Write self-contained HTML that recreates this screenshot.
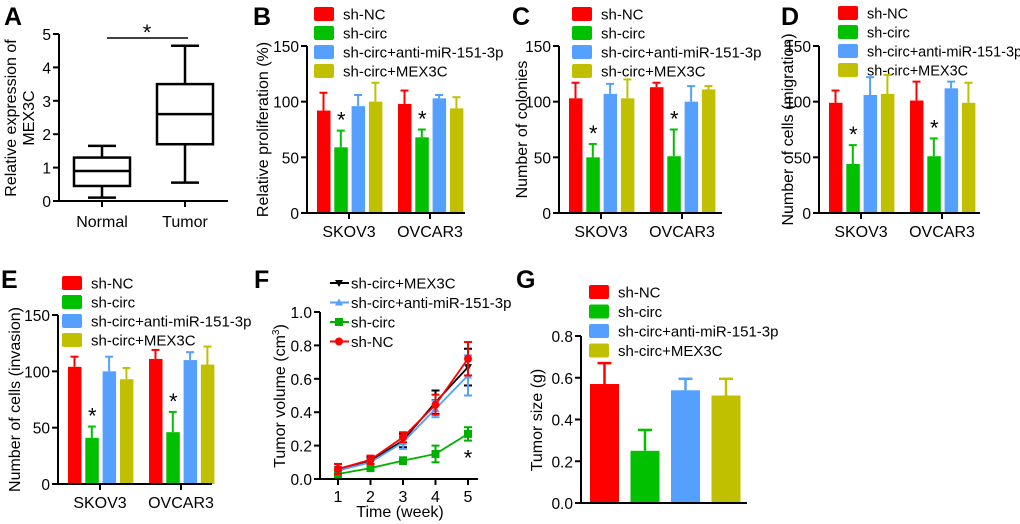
<!DOCTYPE html>
<html><head><meta charset="utf-8"><style>
html,body{margin:0;padding:0;background:#fff;}
svg{display:block;font-family:"Liberation Sans",Arial,sans-serif;}
</style></head><body>
<svg id="fig" width="1020" height="524" viewBox="0 0 1020 524" xmlns="http://www.w3.org/2000/svg"></svg>
<script>
// ---- data ----
const groupNames = ["sh-NC","sh-circ","sh-circ+anti-miR-151-3p","sh-circ+MEX3C"];
const cellLines = ["SKOV3","OVCAR3"];
const boxCategories = ["Normal","Tumor"];
const boxMin = [0.1, 0.55];
const boxQ1 = [0.45, 1.7];
const boxMed = [0.9, 2.6];
const boxQ3 = [1.3, 3.5];
const boxMax = [1.65, 4.65];
const bSkov = [92,59,96,100];   const bSkovErr = [16,15,10,17];
const bOvc  = [98,68,103,94];   const bOvcErr  = [12,7,3,10];
const cSkov = [103,50,107,103]; const cSkovErr = [14,12,9,17];
const cOvc  = [113,51,100,111]; const cOvcErr  = [4,24,14,3];
const dSkov = [99,44,106,107];  const dSkovErr = [11,17,16,17];
const dOvc  = [101,51,112,99];  const dOvcErr  = [17,16,6,18];
const eSkov = [104,41,100,93];  const eSkovErr = [9,10,13,10];
const eOvc  = [111,46,110,106]; const eOvcErr  = [8,18,7,16];
const barTicks = [0,50,100,150];
const weeks = [1,2,3,4,5];
const fMex = [0.06,0.11,0.23,0.46,0.67];   const fMexErr = [0.03,0.02,0.04,0.07,0.11];
const fAnti = [0.05,0.10,0.22,0.42,0.62];  const fAntiErr = [0.02,0.02,0.04,0.05,0.12];
const fCirc = [0.03,0.065,0.11,0.15,0.27]; const fCircErr = [0.02,0.015,0.02,0.05,0.04];
const fNC = [0.06,0.115,0.25,0.445,0.72];  const fNCErr = [0.03,0.025,0.03,0.06,0.10];
const fTicks = [0,0.2,0.4,0.6,0.8,1.0];
const gVals = [0.57,0.25,0.54,0.515];
const gErr = [0.10,0.10,0.055,0.08];
const gTicks = [0,0.2,0.4,0.6,0.8];

const COLORS = ["#ff0000","#00c000","#55a0ff","#c0c000"];
const FS = 16;
const TFS = 15.5;
const LFS = 15;
const NS = "http://www.w3.org/2000/svg";
const svg = document.getElementById("fig");
function el(tag, attrs, parent, text){
  const e = document.createElementNS(NS, tag);
  for (const k in attrs) e.setAttribute(k, attrs[k]);
  if (text !== undefined) e.textContent = text;
  (parent||svg).appendChild(e);
  return e;
}
function grp(name){
  const g = el("g", {});
  
  
  return g;
}
function letter(t, x, y){
  const e = el("text", {x:x, y:y, "font-size":25, "font-weight":"bold"}, svg, t);
  
  
}
function yAxis(g, x, y0, y1, ticks, scale, fmt){
  el("line",{x1:x,y1:y0+1,x2:x,y2:y1,stroke:"#000","stroke-width":2},g);
  ticks.forEach(t=>{
    const y = scale(t);
    el("line",{x1:x-6,y1:y,x2:x,y2:y,stroke:"#000","stroke-width":2},g);
    const lb = el("text",{x:x-8,y:y+6,"font-size":TFS,"text-anchor":"end"},g,fmt(t));
    
    
  });
}
function yTitle(g, lines, cx, cy){
  lines.forEach((t,i)=>{
    const x = cx + (i - (lines.length-1)/2)*18;
    const e = el("text",{x:x,y:cy,"font-size":FS,"text-anchor":"middle",transform:`rotate(-90 ${x} ${cy})`,dy:6},g,t);
    
    
  });
}
function legend(g, x, y0, step, fs){
  groupNames.forEach((n,i)=>{
    const y = y0 + i*step;
    const r = el("rect",{x:x,y:y-7,width:20,height:14,rx:2,fill:COLORS[i]},g);
    
    
    const t = el("text",{x:x+29,y:y+5.5,"font-size":fs||LFS},g,n);
    
    
  });
}

// ---- Panel A: box plot ----
(function(){
  const g = grp("panel-a-boxplot");
  const ax = 59, y0 = 201, y1 = 34;
  const sy = v => y0 - v/5*(y0-y1);
  const cx = [102,185];
  yAxis(g, ax, y0, y1, [0,1,2,3,4,5], sy, t=>String(t));
  el("line",{x1:ax,y1:y0,x2:228,y2:y0,stroke:"#000","stroke-width":2},g);
  cx.forEach((c,i)=>{
    el("line",{x1:c,y1:y0,x2:c,y2:y0+6,stroke:"#000","stroke-width":2},g);
    const lb = el("text",{x:c,y:227,"font-size":FS,"text-anchor":"middle"},g,boxCategories[i]);
     
    const b = el("g",{},g);
    
    
    const st = {stroke:"#000","stroke-width":2.5,fill:"none"};
    el("line",Object.assign({x1:c,y1:sy(boxMin[i]),x2:c,y2:sy(boxQ1[i])},st),b);
    el("line",Object.assign({x1:c,y1:sy(boxQ3[i]),x2:c,y2:sy(boxMax[i])},st),b);
    el("line",Object.assign({x1:c-14,y1:sy(boxMin[i]),x2:c+14,y2:sy(boxMin[i])},st),b);
    el("line",Object.assign({x1:c-14,y1:sy(boxMax[i]),x2:c+14,y2:sy(boxMax[i])},st),b);
    el("rect",Object.assign({x:c-28,y:sy(boxQ3[i]),width:56,height:sy(boxQ1[i])-sy(boxQ3[i])},st),b);
    el("line",Object.assign({x1:c-28,y1:sy(boxMed[i]),x2:c+28,y2:sy(boxMed[i])},st),b);
  });
  el("line",{x1:107,y1:38,x2:188,y2:38,stroke:"#000","stroke-width":1.5},g);
  el("text",{x:147,y:40,"font-size":22,"text-anchor":"middle"},g,"*");
  yTitle(g, ["Relative expression of","MEX3C"], 19, 118);
})();
letter("A",4,25);

// ---- bar panels ----
function barPanel(name, ax, yTop, yBot, xEnd, skov, skovE, ovc, ovcE, title, tcx, lx, ly, lstep, lfs){
  const g = grp(name);
  const sy = v => yBot - v/150*(yBot-yTop);
  legend(g, lx, ly, lstep, lfs);
  yAxis(g, ax, yBot, yTop, barTicks, sy, t=>String(t));
  const sets = [[skov,skovE],[ovc,ovcE]];
  const starts = [ax+10, ax+91];
  sets.forEach((s,ci)=>{
    s[0].forEach((v,i)=>{
      const x = starts[ci] + i*17.3;
      const top = sy(v), et = sy(v+s[1][i]);
      el("line",{x1:x+6.5,y1:top,x2:x+6.5,y2:et,stroke:COLORS[i],"stroke-width":2},g);
      el("line",{x1:x+2.5,y1:et,x2:x+10.5,y2:et,stroke:COLORS[i],"stroke-width":2},g);
      const r = el("rect",{x:x,y:top,width:13.5,height:yBot-top,fill:COLORS[i]},g);
      
      
      if (i===1) el("text",{x:x+7,y:et-3,"font-size":22,"text-anchor":"middle"},g,"*");
    });
    const c = starts[ci] + 32;
    el("line",{x1:c,y1:yBot,x2:c,y2:yBot+6,stroke:"#000","stroke-width":2},g);
    const lb = el("text",{x:c,y:yBot+24,"font-size":FS,"text-anchor":"middle"},g,cellLines[ci]);
     
  });
  el("line",{x1:ax,y1:yBot,x2:xEnd,y2:yBot,stroke:"#000","stroke-width":2},g);
  yTitle(g, [title], tcx, (yTop+yBot)/2);
}
barPanel("panel-b-proliferation",307,46,213,465,bSkov,bSkovErr,bOvc,bOvcErr,"Relative proliferation (%)",262,314,14,19);
letter("B",253,25);
barPanel("panel-c-colonies",559,46,213,722,cSkov,cSkovErr,cOvc,cOvcErr,"Number of colonies",521,572,14,19);
letter("C",512,25);
barPanel("panel-d-migration",819,46,213,980,dSkov,dSkovErr,dOvc,dOvcErr,"Number of cells (migration)",787,838,13,19,14.5);
letter("D",781,25);
barPanel("panel-e-invasion",58,315,484,212,eSkov,eSkovErr,eOvc,eOvcErr,"Number of cells (invasion)",14,62,283,19);
letter("E",1,288);

// ---- Panel F: line chart ----
(function(){
  const g = grp("panel-f-tumor-volume");
  const ax = 320, yTop = 312, yBot = 479;
  const sx = w => 338 + (w-1)*32.5;
  const sy = v => yBot - v*(yBot-yTop);
  yAxis(g, ax, yBot, yTop, fTicks, sy, t=>t.toFixed(1));
  el("line",{x1:ax,y1:yBot,x2:478,y2:yBot,stroke:"#000","stroke-width":2},g);
  weeks.forEach(w=>{
    el("line",{x1:sx(w),y1:yBot,x2:sx(w),y2:yBot+6,stroke:"#000","stroke-width":2},g);
    const lb = el("text",{x:sx(w),y:yBot+23,"font-size":FS,"text-anchor":"middle"},g,String(w));
     
  });
  const xt = el("text",{x:400,y:517,"font-size":FS,"text-anchor":"middle"},g,"Time (week)");
   
  const yt = el("text",{x:279,y:396,"font-size":FS,"text-anchor":"middle",transform:"rotate(-90 279 396)",dy:6},g);
   
  el("tspan",{},yt,"Tumor volume (cm");
  el("tspan",{"font-size":10,dy:-6},yt,"3");
  el("tspan",{dy:6},yt,")");
  const series = [
    {n:"sh-circ+MEX3C",v:fMex,e:fMexErr,c:"#000",m:"tri-down"},
    {n:"sh-circ+anti-miR-151-3p",v:fAnti,e:fAntiErr,c:"#55a0ff",m:"tri-up"},
    {n:"sh-circ",v:fCirc,e:fCircErr,c:"#00b000",m:"square"},
    {n:"sh-NC",v:fNC,e:fNCErr,c:"#ff0000",m:"circle"}];
  function marker(p,x,y,m,c){
    if (m==="circle") el("circle",{cx:x,cy:y,r:4,fill:c},p);
    else if (m==="square") el("rect",{x:x-4,y:y-4,width:8,height:8,fill:c},p);
    else if (m==="tri-up") el("polygon",{points:`${x-4},${y+3} ${x+4},${y+3} ${x},${y-4}`,fill:c},p);
    else el("polygon",{points:`${x-4},${y-3} ${x+4},${y-3} ${x},${y+4}`,fill:c},p);
  }
  series.forEach((s,si)=>{
    const p = el("g",{},g);
    
    
    s.v.forEach((v,i)=>{
      const x = sx(weeks[i]);
      el("line",{x1:x,y1:sy(v-s.e[i]),x2:x,y2:sy(v+s.e[i]),stroke:s.c,"stroke-width":2},p);
      el("line",{x1:x-4,y1:sy(v-s.e[i]),x2:x+4,y2:sy(v-s.e[i]),stroke:s.c,"stroke-width":2},p);
      el("line",{x1:x-4,y1:sy(v+s.e[i]),x2:x+4,y2:sy(v+s.e[i]),stroke:s.c,"stroke-width":2},p);
    });
    el("polyline",{points:s.v.map((v,i)=>sx(weeks[i])+","+sy(v)).join(" "),fill:"none",stroke:s.c,"stroke-width":1.8},p);
    s.v.forEach((v,i)=>marker(p,sx(weeks[i]),sy(v),s.m,s.c));
    const ly = 283 + si*19.5;
    const le = el("g",{},g);
    
    
    el("line",{x1:330,y1:ly,x2:349,y2:ly,stroke:s.c,"stroke-width":2},le);
    marker(le,339,ly,s.m,s.c);
    el("text",{x:351,y:ly+5.5,"font-size":LFS},le,s.n);
  });
  el("text",{x:sx(5),y:sy(0.13)+8,"font-size":22,"text-anchor":"middle"},g,"*");
})();
letter("F",254,288);

// ---- Panel G ----
(function(){
  const g = grp("panel-g-tumor-size");
  const ax = 581, yTop = 336, yBot = 503;
  const sy = v => yBot - v/0.8*(yBot-yTop);
  legend(g, 589, 292, 19.5);
  yAxis(g, ax, yBot, yTop, gTicks, sy, t=>t.toFixed(1));
  gVals.forEach((v,i)=>{
    const x = 590 + i*40.5, w = 29;
    const top = sy(v), et = sy(v+gErr[i]);
    el("line",{x1:x+w/2,y1:top,x2:x+w/2,y2:et,stroke:COLORS[i],"stroke-width":2.5},g);
    el("line",{x1:x+w/2-7,y1:et,x2:x+w/2+7,y2:et,stroke:COLORS[i],"stroke-width":2.5},g);
    const r = el("rect",{x:x,y:top,width:w,height:yBot-top,fill:COLORS[i]},g);
    
    
  });
  el("line",{x1:ax,y1:yBot,x2:747,y2:yBot,stroke:"#000","stroke-width":2},g);
  yTitle(g, ["Tumor size (g)"], 536, 420);
})();
letter("G",516,288);
</script>
</body></html>
